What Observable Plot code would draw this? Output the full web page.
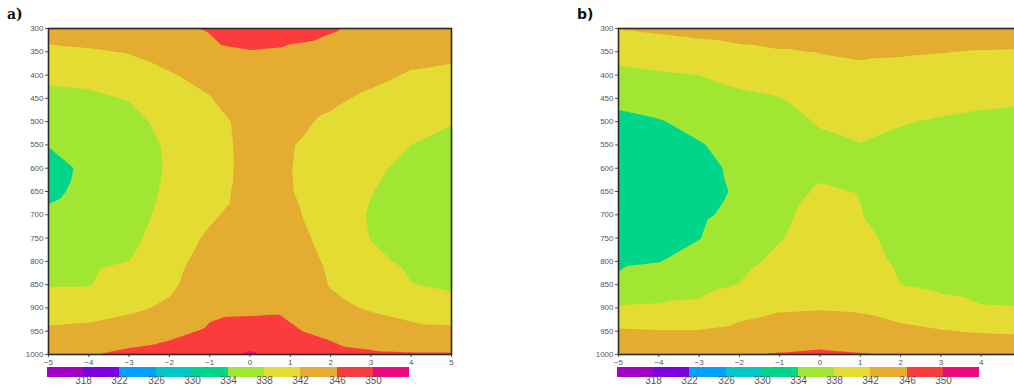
<!DOCTYPE html>
<html>
<head>
<meta charset="utf-8">
<script src="https://cdn.jsdelivr.net/npm/d3@7"></script>
<script src="https://cdn.jsdelivr.net/npm/@observablehq/plot@0.6"></script>
<style>
  html, body { margin: 0; padding: 0; background: #fff; overflow: hidden; }
  #root { position: relative; width: 1014px; height: 387px; overflow: hidden; font-family: "Liberation Sans", Arial, sans-serif; }
  .panel, .bar, .tag { position: absolute; }
  .panel { width: 460px; height: 372px; }
  .panel svg, .bar svg { max-width: none !important; }
  .bar { width: 362px; height: 20px; }
  .bar line { display: none; }
  .bar text { transform: translateY(-3px); }
  .tag { font-weight: bold; font-size: 14px; color: #111; }
</style>
</head>
<body>
<div id="root"></div>
<script>
// Horizontal positions and pressure levels (hPa) of the gridded field
const xs = [-5, -4, -3, -2, -1, 0, 1, 2, 3, 4, 5];
const levels = [300, 350, 400, 450, 500, 550, 600, 650, 700, 750, 800, 850, 900, 950, 1000];

// Labelled x ticks of each panel (the right panel runs past the page edge)
const xTicksA = [-5, -4, -3, -2, -1, 0, 1, 2, 3, 4, 5];
const xTicksB = [-5, -4, -3, -2, -1, 0, 1, 2, 3, 4];

// Contour levels of the colour bar and the colours between them
const thresholds = [318, 322, 326, 330, 334, 338, 342, 346, 350];
const palette = ["#a000c8", "#7d00e1", "#00a0ff", "#00c8c8", "#00d68a",
                 "#a2e634", "#e4dc32", "#e4ac30", "#fa3c3c", "#f0087c"];

// Panel a) field: one row per x position, values from 300 to 1000 hPa
const fieldA = [
  [343.6, 341.2, 338.8, 337.0, 335.6, 334.1, 333.0, 333.4, 334.5, 335.5, 336.6, 337.8, 340.0, 342.6, 344.5],
  [344.2, 341.6, 339.1, 337.3, 336.2, 335.2, 334.6, 334.8, 335.4, 336.3, 337.2, 337.8, 340.3, 343.0, 345.8],
  [344.7, 342.2, 340.2, 338.2, 336.8, 336.0, 335.6, 335.8, 336.3, 337.0, 338.0, 340.0, 341.3, 343.9, 346.8],
  [345.3, 343.5, 341.7, 340.3, 339.3, 338.6, 338.5, 338.8, 339.3, 340.0, 340.7, 341.3, 342.6, 345.0, 347.5],
  [346.3, 345.0, 343.2, 341.8, 340.0, 339.8, 339.8, 340.2, 341.4, 342.6, 343.5, 344.3, 345.2, 346.5, 348.6],
  [348.5, 345.8, 344.8, 344.2, 343.8, 343.6, 343.5, 343.6, 343.8, 344.1, 344.5, 345.0, 345.3, 347.3, 350.5],
  [347.2, 345.4, 344.4, 343.4, 342.7, 342.2, 342.1, 342.2, 342.8, 343.5, 344.2, 345.0, 345.5, 346.3, 348.0],
  [346.3, 345.0, 343.8, 342.6, 341.5, 340.5, 339.8, 339.7, 340.0, 340.6, 341.3, 341.8, 343.0, 345.3, 347.0],
  [345.2, 344.2, 342.8, 341.4, 340.2, 339.3, 338.6, 338.1, 337.7, 337.9, 338.8, 340.2, 341.6, 344.0, 346.5],
  [344.6, 343.0, 341.7, 340.4, 339.2, 338.0, 337.2, 336.7, 336.5, 336.8, 337.3, 338.1, 340.6, 343.0, 346.3],
  [344.2, 342.8, 341.2, 339.7, 338.2, 337.0, 336.2, 335.7, 335.5, 335.7, 336.3, 337.3, 339.6, 342.9, 346.3]
];

// Panel b) field: one row per x position, values from 300 to 1000 hPa
const fieldB = [
  [342.1, 339.5, 337.0, 334.7, 333.3, 332.4, 331.9, 331.7, 332.0, 332.6, 333.5, 334.6, 338.3, 342.5, 346.1],
  [342.6, 340.0, 337.6, 335.5, 333.8, 333.0, 332.5, 332.4, 332.7, 333.2, 333.9, 336.0, 338.5, 342.2, 345.3],
  [343.1, 340.6, 338.0, 336.5, 334.9, 333.8, 333.3, 333.2, 333.5, 333.9, 335.2, 336.9, 338.7, 342.2, 345.5],
  [343.4, 341.3, 339.0, 337.3, 336.0, 335.0, 334.5, 334.3, 334.8, 335.9, 337.0, 338.1, 340.6, 343.0, 345.9],
  [343.6, 341.8, 339.8, 337.9, 337.1, 336.7, 336.6, 337.0, 337.4, 337.8, 338.8, 340.2, 341.6, 343.8, 346.2],
  [343.2, 342.1, 340.8, 339.4, 338.2, 337.5, 337.5, 338.3, 339.0, 339.6, 340.3, 341.0, 341.8, 343.8, 346.6],
  [343.0, 342.4, 341.3, 340.2, 339.1, 337.9, 337.4, 337.9, 338.1, 338.9, 339.7, 340.8, 341.6, 343.3, 346.2],
  [343.6, 342.3, 341.0, 339.6, 338.2, 337.3, 336.9, 336.7, 336.7, 336.9, 337.3, 338.0, 340.3, 342.9, 345.95],
  [344.3, 342.1, 340.6, 339.1, 337.7, 336.7, 336.2, 336.0, 336.0, 336.2, 336.6, 337.3, 339.1, 342.2, 345.5],
  [344.5, 341.8, 340.3, 338.7, 337.3, 336.4, 335.9, 335.7, 335.7, 335.9, 336.3, 336.9, 338.2, 341.7, 345.2],
  [344.8, 341.6, 340.0, 338.4, 337.1, 336.2, 335.7, 335.5, 335.5, 335.7, 336.1, 336.8, 338.1, 341.5, 345.0]
];

const panels = [
  {tag: "a)", field: fieldA, ticks: xTicksA, left: 0, barLeft: 47, tagLeft: 7, tagFont: '"DejaVu Serif", serif'},
  {tag: "b)", field: fieldB, ticks: xTicksB, left: 570, barLeft: 617, tagLeft: 577, tagFont: '"DejaVu Sans", sans-serif'}
];

const colorScale = {type: "threshold", domain: thresholds, range: palette};
const root = document.getElementById("root");

function toPoints(field) {
  const pts = [];
  xs.forEach((x, i) => levels.forEach((p, j) => pts.push({x, p, v: field[i][j]})));
  return pts;
}

for (const panel of panels) {
  const chart = Plot.plot({
    width: 460,
    height: 372,
    marginLeft: 48,
    marginRight: 9,
    marginTop: 28,
    marginBottom: 18,
    style: {fontSize: "8px", fontFamily: '"Liberation Sans", Arial, sans-serif', color: "#555", background: "transparent"},
    x: {domain: [-5, 5], ticks: panel.ticks, tickSize: 3, tickPadding: 2, label: null},
    y: {domain: [300, 1000], reverse: true, ticks: levels, tickSize: 3, tickPadding: 2, tickFormat: (d) => String(d), label: null},
    color: colorScale,
    marks: [
      Plot.contour(toPoints(panel.field), {
        x: "x", y: "p", fill: "v",
        thresholds: thresholds.filter((t) => t >= 330),
        interpolate: "barycentric",
        stroke: "none"
      }),
      Plot.frame({stroke: "#2a2a2a", strokeWidth: 1.6})
    ]
  });
  const holder = document.createElement("div");
  holder.className = "panel";
  holder.style.left = panel.left + "px";
  holder.style.top = "0px";
  holder.appendChild(chart);
  root.appendChild(holder);

  const bar = Plot.legend({
    color: colorScale,
    width: 362,
    height: 20,
    marginTop: 0,
    marginBottom: 10,
    marginLeft: 0,
    marginRight: 0,
    tickSize: 0,
    style: {fontSize: "10px", fontFamily: '"Liberation Sans", Arial, sans-serif', color: "#555", background: "transparent"}
  });
  const barHolder = document.createElement("div");
  barHolder.className = "bar";
  barHolder.style.left = panel.barLeft + "px";
  barHolder.style.top = "367px";
  barHolder.appendChild(bar);
  root.appendChild(barHolder);

  const tag = document.createElement("div");
  tag.className = "tag";
  tag.textContent = panel.tag;
  tag.style.left = panel.tagLeft + "px";
  tag.style.top = "6px";
  tag.style.fontFamily = panel.tagFont;
  root.appendChild(tag);
}
</script>
</body>
</html>
